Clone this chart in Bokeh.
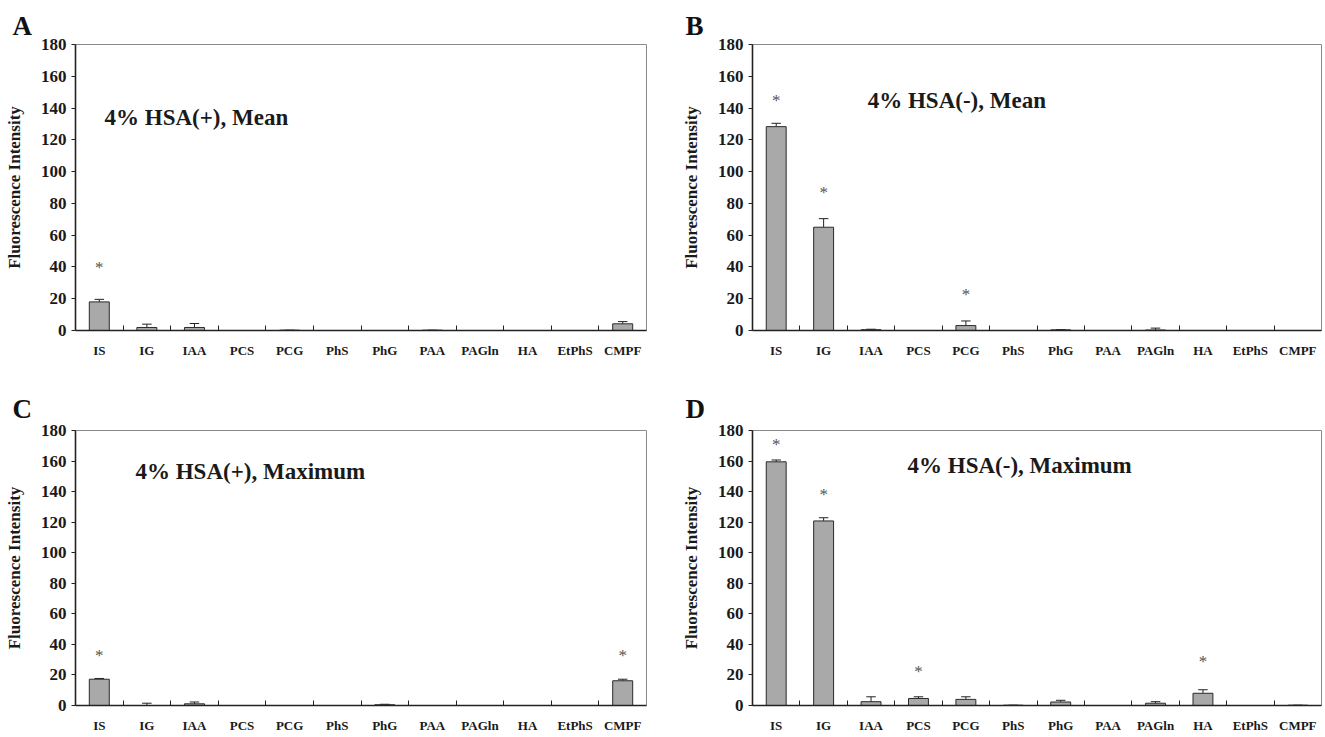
from bokeh.plotting import figure
from bokeh.models import Range1d, FixedTicker, Label, ColumnDataSource
from bokeh.layouts import gridplot
from bokeh.core.properties import value
from bokeh.embed import file_html
from bokeh.resources import INLINE

categories = ["IS", "IG", "IAA", "PCS", "PCG", "PhS", "PhG", "PAA", "PAGln", "HA", "EtPhS", "CMPF"]
y_ticks = [0, 20, 40, 60, 80, 100, 120, 140, 160, 180]

# Panel A: 4% HSA(+), Mean
a_values = [18.0, 1.9, 1.9, 0.0, 0.2, 0.0, 0.0, 0.2, 0.0, 0.0, 0.0, 4.2]
a_errors = [1.6, 2.1, 2.5, 0.0, 0.0, 0.0, 0.0, 0.0, 0.0, 0.0, 0.0, 1.4]
a_stars = [39.5, None, None, None, None, None, None, None, None, None, None, None]

# Panel B: 4% HSA(-), Mean
b_values = [128.3, 65.0, 0.5, 0.0, 3.1, 0.0, 0.4, 0.0, 0.3, 0.0, 0.0, 0.0]
b_errors = [2.1, 5.4, 0.3, 0.0, 2.9, 0.0, 0.2, 0.0, 1.2, 0.0, 0.0, 0.0]
b_stars = [145.0, 87.0, None, None, 22.5, None, None, None, None, None, None, None]

# Panel C: 4% HSA(+), Maximum
c_values = [17.2, 0.0, 1.1, 0.0, 0.0, 0.0, 0.5, 0.0, 0.0, 0.0, 0.0, 16.2]
c_errors = [0.5, 1.5, 1.2, 0.0, 0.0, 0.0, 0.3, 0.0, 0.0, 0.0, 0.0, 1.0]
c_stars = [33.0, None, None, None, None, None, None, None, None, None, None, 33.0]

# Panel D: 4% HSA(-), Maximum
d_values = [159.5, 120.8, 2.5, 4.6, 4.0, 0.2, 2.3, 0.0, 1.5, 8.0, 0.0, 0.2]
d_errors = [1.2, 2.1, 3.2, 1.1, 1.7, 0.0, 1.1, 0.0, 1.0, 2.3, 0.0, 0.0]
d_stars = [170.7, 138.3, None, 22.3, None, None, None, None, None, 28.5, None, None]

FONT = "Liberation Serif"
BAR_W = 0.42
CAP_W = 0.2


def make_panel(letter, title, vals, errs, stars, width, height, lb, rb, tb, bb,
               title_x, title_y, letter_offset, letter_standoff):
    p = figure(width=width, height=height, output_backend="svg", toolbar_location=None,
               x_range=Range1d(0, len(categories)), y_range=Range1d(0, 180),
               min_border_left=lb, min_border_right=rb, min_border_top=tb, min_border_bottom=bb,
               title=letter)
    p.background_fill_color = "white"
    p.border_fill_color = "white"
    p.outline_line_color = "#8a8a8a"
    p.outline_line_width = 1
    p.xgrid.visible = False
    p.ygrid.visible = False

    p.title.align = "left"
    p.title.offset = letter_offset
    p.title.standoff = letter_standoff
    p.title.text_font = FONT
    p.title.text_font_style = "bold"
    p.title.text_font_size = "27px"
    p.title.text_color = "#111111"

    centers = [i + 0.5 for i in range(len(categories))]
    bounds = [i for i in range(1, len(categories))]
    src = ColumnDataSource(dict(
        x=centers, top=vals,
        etop=[v + e for v, e in zip(vals, errs)],
        cl=[c - CAP_W / 2 for c in centers], cr=[c + CAP_W / 2 for c in centers],
    ))
    # error bars (upper only)
    p.segment(x0="x", y0="top", x1="x", y1="etop", source=src, line_color="#222222", line_width=1)
    p.segment(x0="cl", y0="etop", x1="cr", y1="etop", source=src, line_color="#222222", line_width=1)
    p.vbar(x="x", top="top", bottom=0, width=BAR_W, source=src,
           fill_color="#a9a9a9", line_color="#2a2a2a", line_width=1)

    sx = [c for c, s in zip(centers, stars) if s is not None]
    sy = [s for s in stars if s is not None]
    p.text(x=sx, y=sy, text=["*"] * len(sx), text_font=value(FONT), text_font_size="17px",
           text_color="#555555", text_align="center", text_baseline="middle")

    # x axis
    xa = p.xaxis[0]
    xa.ticker = FixedTicker(ticks=centers, minor_ticks=bounds)
    xa.major_label_overrides = {c: n for c, n in zip(centers, categories)}
    xa.major_tick_in = 0
    xa.major_tick_out = 0
    xa.minor_tick_in = 5
    xa.minor_tick_out = 0
    xa.minor_tick_line_color = "#222222"
    xa.axis_line_color = "#222222"
    xa.axis_line_width = 1.6
    xa.major_label_text_font = FONT
    xa.major_label_text_font_style = "bold"
    xa.major_label_text_font_size = "13px"
    xa.major_label_text_color = "#1a1a1a"
    xa.major_label_standoff = 12

    # y axis
    ya = p.yaxis[0]
    ya.ticker = FixedTicker(ticks=y_ticks)
    ya.major_tick_in = 0
    ya.major_tick_out = 4
    ya.minor_tick_in = 0
    ya.minor_tick_out = 0
    ya.major_tick_line_color = "#222222"
    ya.axis_line_color = "#222222"
    ya.axis_line_width = 1.6
    ya.major_label_text_font = FONT
    ya.major_label_text_font_style = "bold"
    ya.major_label_text_font_size = "17px"
    ya.major_label_text_color = "#1a1a1a"
    ya.major_label_standoff = 5
    ya.axis_label = "Fluorescence Intensity"
    ya.axis_label_text_font = FONT
    ya.axis_label_text_font_style = "bold"
    ya.axis_label_text_font_size = "17px"
    ya.axis_label_text_color = "#1a1a1a"
    ya.axis_label_standoff = 14

    p.add_layout(Label(x=title_x, y=title_y, text=title, text_font=FONT, text_font_style="bold",
                       text_font_size="23px", text_color="#1a1a1a", text_baseline="middle",
                       text_align="left"))
    return p


pA = make_panel("A", "4% HSA(+), Mean", a_values, a_errors, a_stars,
                666, 360, 75, 20, 44, 28, 0.61, 134, -63, 7)
pB = make_panel("B", "4% HSA(-), Mean", b_values, b_errors, b_stars,
                657, 360, 86, 2, 44, 28, 2.43, 145, -67, 7)
pC = make_panel("C", "4% HSA(+), Maximum", c_values, c_errors, c_stars,
                666, 375, 75, 20, 70, 26, 1.26, 153, -63, 13)
pD = make_panel("D", "4% HSA(-), Maximum", d_values, d_errors, d_stars,
                657, 375, 86, 2, 70, 26, 3.27, 157, -67, 13)

grid = gridplot([[pA, pB], [pC, pD]], toolbar_location=None)

open("out.html", "w").write(file_html(grid, INLINE))
